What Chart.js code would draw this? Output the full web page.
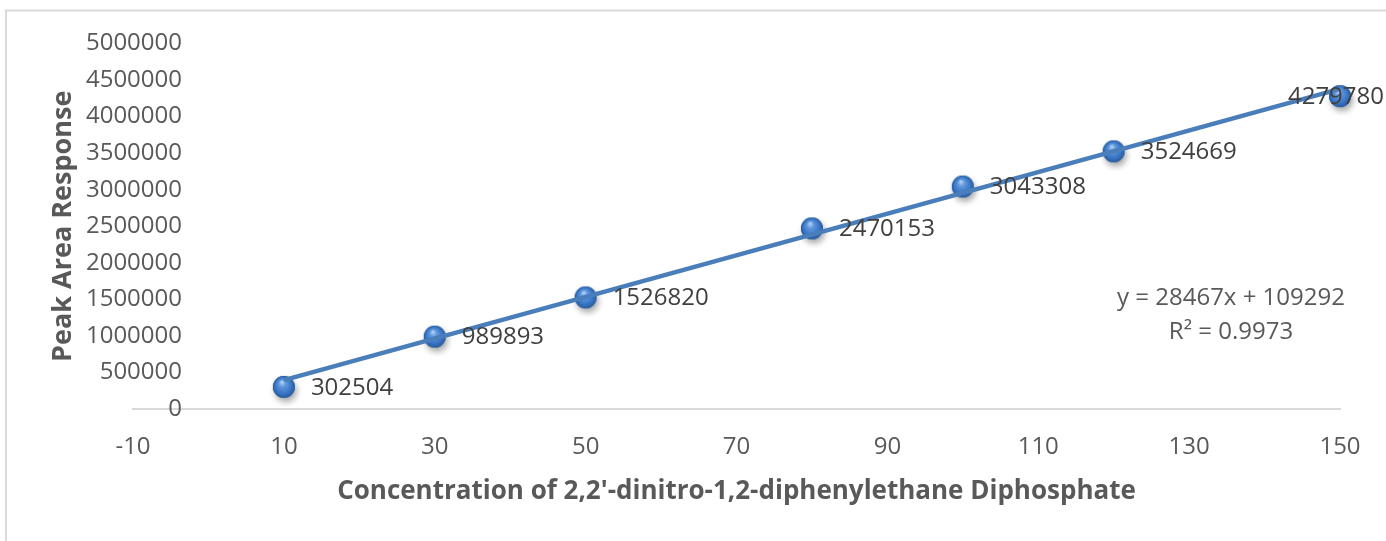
<!DOCTYPE html>
<html>
<head>
<meta charset="utf-8">
<script src="https://cdn.jsdelivr.net/npm/chart.js@4/dist/chart.umd.min.js"></script>
<style>
html,body{margin:0;padding:0;background:#fff;}
canvas{display:block;}
</style>
</head>
<body>
<canvas id="c" width="1386" height="541"></canvas>
<script>
const concentrations = [10, 30, 50, 80, 100, 120, 150];
const peakAreas = [302504, 989893, 1526820, 2470153, 3043308, 3524669, 4279780];
const trendX = [10, 150];
const trendY = [393962, 4379342];
const equationLines = ['y = 28467x + 109292', 'R\u00B2 = 0.9973'];
const xTitle = "Concentration of 2,2'-dinitro-1,2-diphenylethane Diphosphate";
const yTitle = 'Peak Area Response';

const FONT = "'Open Sans', 'Noto Sans', sans-serif";

function makeSphere() {
  const s = 40, c = s / 2, r = 11;
  const cv = document.createElement('canvas');
  cv.width = s; cv.height = s;
  const g = cv.getContext('2d');
  g.save();
  g.shadowColor = 'rgba(0,0,0,0.35)';
  g.shadowBlur = 6;
  g.shadowOffsetX = 2;
  g.shadowOffsetY = 4;
  g.beginPath(); g.arc(c, c, r, 0, Math.PI * 2);
  g.fillStyle = '#2f66b0'; g.fill();
  g.restore();
  const grad = g.createRadialGradient(c - 2, c - 5, 0.5, c, c, r);
  grad.addColorStop(0, '#b0d0f4');
  grad.addColorStop(0.3, '#5d96dc');
  grad.addColorStop(0.75, '#3773c4');
  grad.addColorStop(1, '#275a96');
  g.beginPath(); g.arc(c, c, r, 0, Math.PI * 2);
  g.fillStyle = grad; g.fill();
  return cv;
}

const framePlugin = {
  id: 'frame',
  beforeDraw(chart) {
    const ctx = chart.ctx;
    ctx.save();
    ctx.strokeStyle = '#d9d9d9';
    ctx.lineWidth = 2;
    ctx.beginPath();
    ctx.moveTo(6, 541); ctx.lineTo(6, 10.5); ctx.lineTo(1386, 10.5);
    ctx.stroke();
    ctx.restore();
  }
};

const labelPlugin = {
  id: 'labels',
  afterDatasetsDraw(chart) {
    const ctx = chart.ctx;
    const meta = chart.getDatasetMeta(1);
    ctx.save();
    ctx.font = '24px ' + FONT;
    ctx.fillStyle = '#404040';
    ctx.textBaseline = 'middle';
    ctx.textAlign = 'left';
    meta.data.forEach((pt, i) => {
      const txt = String(peakAreas[i]);
      const w = ctx.measureText(txt).width;
      let x = pt.x + 27;
      if (x + w > chart.width - 2) x = chart.width - 2 - w;
      ctx.fillText(txt, x, pt.y + 1);
    });
    ctx.textAlign = 'center';
    ctx.fillStyle = '#595959';
    ctx.fillText(equationLines[0], 1231, 298);
    ctx.fillText(equationLines[1], 1231, 332);
    ctx.restore();
  }
};

new Chart(document.getElementById('c'), {
  type: 'scatter',
  data: {
    datasets: [
      {
        label: 'Trend',
        data: trendX.map((x, i) => ({x, y: trendY[i]})),
        showLine: true,
        borderColor: '#4a7ebb',
        borderWidth: 4.5,
        pointRadius: 0,
        order: 0,
        clip: false
      },
      {
        label: 'Peak Area',
        data: concentrations.map((x, i) => ({x, y: peakAreas[i]})),
        pointStyle: makeSphere(),
        pointRadius: 11,
        showLine: false,
        order: 1,
        clip: false
      }
    ]
  },
  options: {
    responsive: false,
    animation: false,
    devicePixelRatio: 1,
    layout: {padding: {left: 0, top: 43.5, right: 46, bottom: 0}},
    plugins: {legend: {display: false}, tooltip: {enabled: false}},
    scales: {
      x: {
        type: 'linear',
        min: -10, max: 150,
        grid: {display: false, drawTicks: false},
        border: {display: true, color: '#d9d9d9', width: 2},
        ticks: {stepSize: 20, padding: 24, color: '#595959', font: {family: FONT, size: 24}, maxRotation: 0},
        title: {display: true, text: xTitle, color: '#595959', font: {family: FONT, size: 26, weight: 'bold'}, padding: {bottom: 34}},
        afterFit(s) { s.height = 132; s.paddingLeft = 0; s.paddingRight = 0; }
      },
      y: {
        type: 'linear',
        min: 0, max: 5000000,
        grid: {display: false, drawTicks: false},
        border: {display: false},
        ticks: {stepSize: 500000, padding: -49, color: '#595959', font: {family: FONT, size: 24},
          callback: v => String(v)},
        title: {display: true, text: yTitle, color: '#595959', font: {family: FONT, size: 27, weight: 'bold'}, padding: {top: 47}},
        afterFit(s) {
          s.width = 133; s.paddingTop = 0; s.paddingBottom = 0;
          s._computeLabelArea = function () { return undefined; };
        }
      }
    }
  },
  plugins: [framePlugin, labelPlugin]
});
</script>
</body>
</html>
